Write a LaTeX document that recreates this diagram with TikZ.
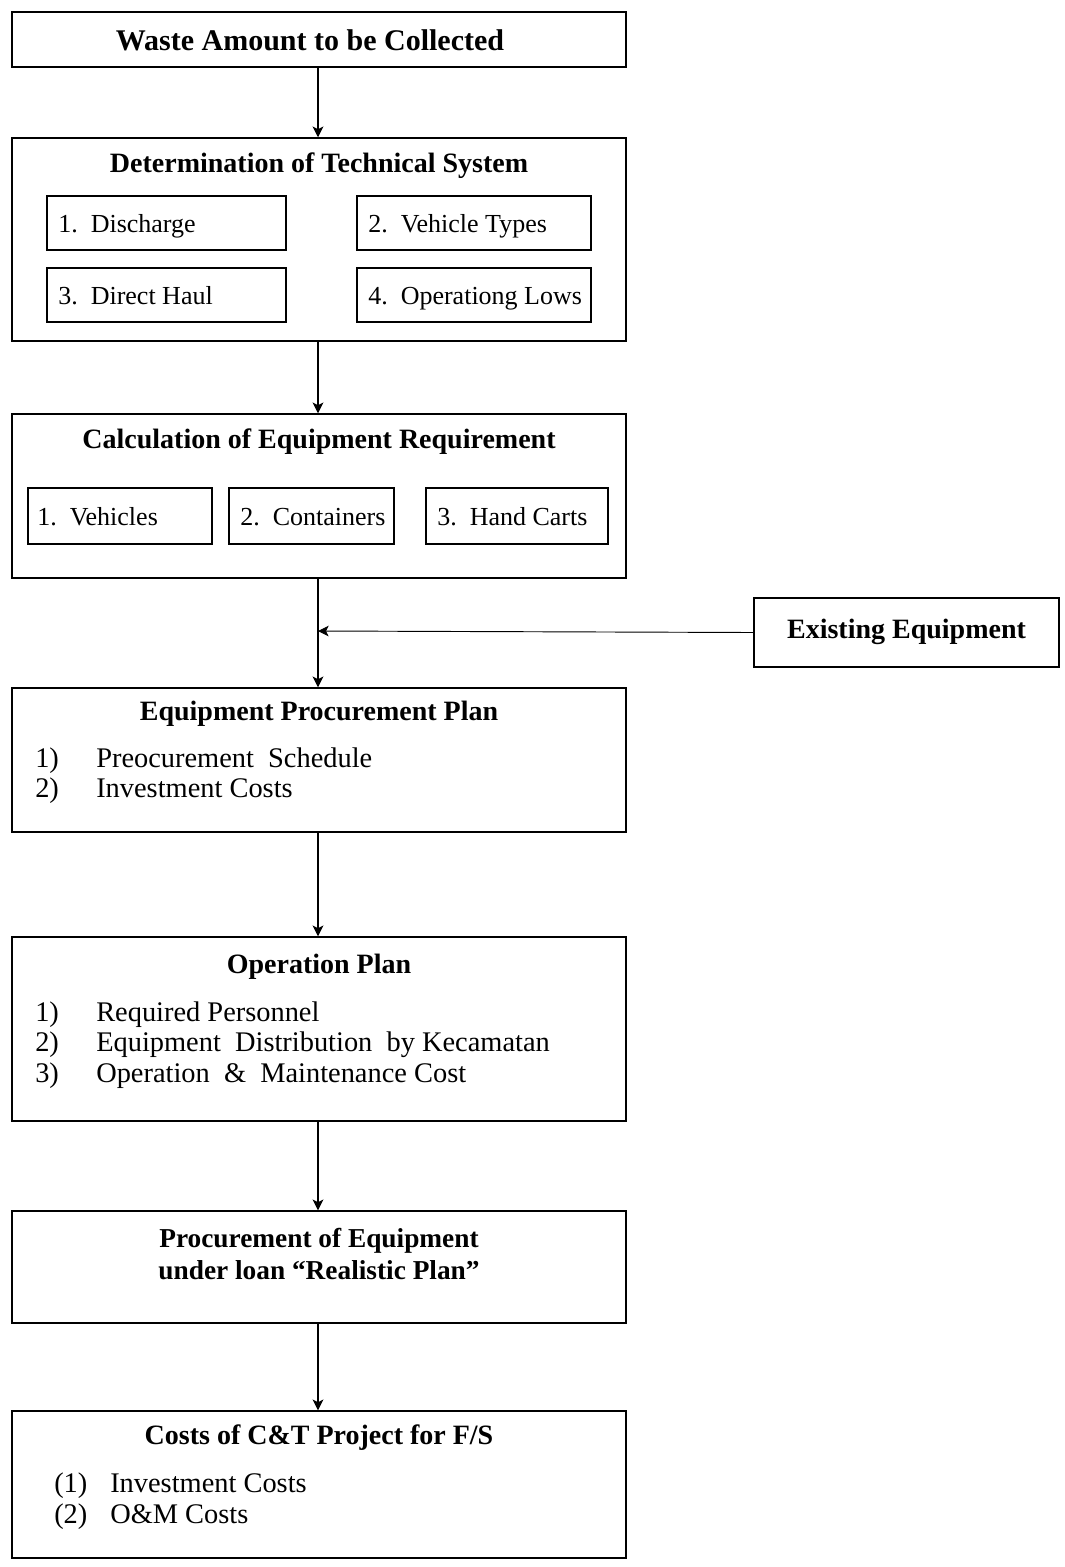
\documentclass[tikz,border=0pt]{standalone}
\usepackage{fontspec}
\setmainfont{Liberation Serif}
\usetikzlibrary{arrows.meta}
\begin{document}
\begin{tikzpicture}[x=0.75pt,y=-0.75pt,
  box/.style={draw,line width=1.1pt,inner sep=0pt,minimum width=460.5pt},
  sub/.style={draw,line width=1.1pt,inner sep=0pt},
  ttl/.style={font=\fontsize{21}{24}\selectfont\bfseries,inner sep=0pt},
  itm/.style={font=\fontsize{21.3}{24}\selectfont,inner sep=0pt,anchor=base west},
  subt/.style={font=\fontsize{19.5}{22}\selectfont,inner sep=0pt,anchor=base west},
  flow/.style={line width=1.5pt,-{Stealth[length=8pt,width=8pt,inset=2pt]}},
  thin/.style={line width=0.7pt,-{Stealth[length=8pt,width=8pt,inset=2pt]}}]
\useasboundingbox (0,0) rectangle (1064,1567);
% boxes
\node[box,minimum height=41.25pt] (b1) at (319,39.5) {};
\node[ttl,font=\fontsize{22.5}{26}\selectfont\bfseries] (t1) at (310,40) {Waste Amount to be Collected};

\node[box,minimum height=152.25pt] (b2) at (319,239.5) {};
\node[ttl] (t2) at (319,166) {Determination of Technical System};
\node[sub,minimum width=179.25pt,minimum height=40.5pt] (s21) at (166.5,223) {};
\node[sub,minimum width=175.5pt,minimum height=40.5pt] (s22) at (474,223) {};
\node[sub,minimum width=179.25pt,minimum height=40.5pt] (s23) at (166.5,295) {};
\node[sub,minimum width=175.5pt,minimum height=40.5pt] (s24) at (474,295) {};
\node[subt] (u21) at (58,232) {1.\ \ Discharge};
\node[subt] (u22) at (368,232) {2.\ \ Vehicle Types};
\node[subt] (u23) at (58,304) {3.\ \ Direct Haul};
\node[subt] (u24) at (368,304) {4.\ \ Operationg Lows};

\node[box,minimum height=123pt] (b3) at (319,496) {};
\node[ttl] (t3) at (319,442) {Calculation of Equipment Requirement};
\node[sub,minimum width=138pt,minimum height=42pt] (s31) at (120,516) {};
\node[sub,minimum width=123.75pt,minimum height=42pt] (s32) at (311.5,516) {};
\node[sub,minimum width=136.5pt,minimum height=42pt] (s33) at (517,516) {};
\node[subt] (u31) at (37,525) {1.\ \ Vehicles};
\node[subt] (u32) at (240,525) {2.\ \ Containers};
\node[subt] (u33) at (437,525) {3.\ \ Hand Carts};

\node[sub,minimum width=228.75pt,minimum height=51.75pt] (ex) at (906.5,632.5) {};
\node[ttl] (tex) at (906.5,632) {Existing Equipment};

\node[box,minimum height=108pt] (b5) at (319,760) {};
\node[ttl] (t5) at (319,714) {Equipment Procurement Plan};
\node[itm] (n51) at (35,767) {1)};
\node[itm] (i51) at (96,767) {Preocurement\ \ Schedule};
\node[itm] (n52) at (35,797) {2)};
\node[itm] (i52) at (96,797) {Investment Costs};

\node[box,minimum height=138pt] (b6) at (319,1029) {};
\node[ttl] (t6) at (319,967) {Operation Plan};
\node[itm] (n61) at (35,1021) {1)};
\node[itm] (i61) at (96,1021) {Required Personnel};
\node[itm] (n62) at (35,1051) {2)};
\node[itm] (i62) at (96,1051) {Equipment\ \ Distribution\ \ by Kecamatan};
\node[itm] (n63) at (35,1082) {3)};
\node[itm] (i63) at (96,1082) {Operation\ \ \&\ \ Maintenance Cost};

\node[box,minimum height=84pt] (b7) at (319,1267) {};
\node[ttl,align=center,font=\fontsize{20.5}{24.5}\selectfont\bfseries] (t7) at (319,1254) {Procurement of Equipment\\under loan “Realistic Plan”};

\node[box,minimum height=110.25pt] (b8) at (319,1484.5) {};
\node[ttl] (t8) at (319,1438) {Costs of C\&T Project for F/S};
\node[itm] (n81) at (54,1492) {(1)};
\node[itm] (i81) at (110,1492) {Investment Costs};
\node[itm] (n82) at (54,1523) {(2)};
\node[itm] (i82) at (110,1523) {O\&M Costs};

% connectors
\coordinate (j) at (318,631);
\draw[flow] (b1.south -| 318,0) -- (b2.north -| 318,0);
\draw[flow] (b2.south -| 318,0) -- (b3.north -| 318,0);
\draw[line width=1.5pt] (b3.south -| 318,0) -- (j);
\draw[flow] (j) -- (b5.north -| 318,0);
\draw[thin] (ex.west) -- (j);
\draw[flow] (b5.south -| 318,0) -- (b6.north -| 318,0);
\draw[flow] (b6.south -| 318,0) -- (b7.north -| 318,0);
\draw[flow] (b7.south -| 318,0) -- (b8.north -| 318,0);
\end{tikzpicture}
\end{document}
